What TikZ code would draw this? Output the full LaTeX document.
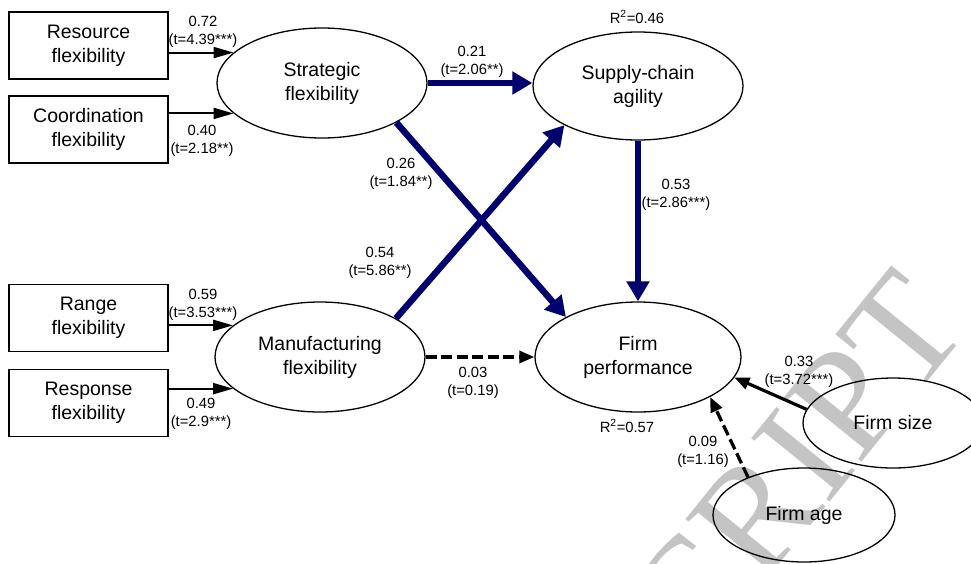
\documentclass[tikz,border=0pt]{standalone}
\usepackage{fontspec}
\setmainfont{Liberation Sans}
\newfontfamily\wmfont{Liberation Serif}
\usetikzlibrary{shapes.geometric,arrows.meta}
\definecolor{navy}{RGB}{0,0,110}
\definecolor{wmgray}{RGB}{196,196,196}
\tikzset{
  box/.style={draw,line width=1.6pt,minimum width=159pt,minimum height=67pt,inner sep=0pt,align=center,font=\fontsize{19.5}{24}\selectfont},
  ell/.style={draw,line width=1.3pt,ellipse,minimum width=210pt,minimum height=110pt,inner sep=0pt,align=center,font=\fontsize{19.5}{24}\selectfont},
  lab/.style={align=center,inner sep=0pt,font=\fontsize{14.8}{18}\selectfont},
  blk/.style={line width=2pt,-{Triangle[length=20pt,width=11pt]}},
  nav/.style={navy,line width=6.5pt,-{Triangle[length=20pt,width=22pt]}},
  blkthick/.style={line width=3.2pt,-{Triangle[length=15pt,width=12pt]}},
  dsh/.style={line width=3.3pt,dash pattern=on 11pt off 4.5pt,-{Triangle[length=15pt,width=12pt]}},
}
\begin{document}
\begin{tikzpicture}[x=1pt,y=-1pt]
\useasboundingbox (0,0) rectangle (971,563);
% watermark
\begin{scope}
\clip (0,0) rectangle (971,563);
\node[wmgray,rotate=51,anchor=base east,inner sep=0pt,font=\wmfont\fontsize{154}{160}\selectfont] (wm) at (972,327) {MANUSCRIPT};
\end{scope}
% boxes
\node[box] (res) at (88.5,45.5) {Resource\\flexibility};
\node[box] (coo) at (88.5,129.5) {Coordination\\flexibility};
\node[box] (ran) at (88.5,318) {Range\\flexibility};
\node[box] (rsp) at (88.5,403) {Response\\flexibility};
% ellipses
\node[ell] (str) at (322,83) {Strategic\\flexibility};
\node[ell,minimum height=108pt] (sca) at (638,86) {Supply-chain\\agility};
\node[ell] (mf) at (320,357) {Manufacturing\\flexibility};
\node[ell,minimum width=206pt] (fp) at (638,357) {Firm\\performance};
\node[ell,minimum width=180pt,minimum height=90pt] (fs) at (893,423) {Firm size};
\node[ell,minimum width=182pt,minimum height=94pt] (fa) at (804,515) {Firm age};
% arrows
\draw[blk] (str.161 -| res.east) -- (str.161);
\draw[blk] (str.199 -| coo.east) -- (str.199);
\draw[blk] (mf.160 -| ran.east) -- (mf.160);
\draw[blk] (mf.200 -| rsp.east) -- (mf.200);
\draw[nav] (str.east) -- (str.east -| sca.west);
\draw[nav] (str.-28) -- (fp.151);
\draw[nav] (mf.27) -- (sca.208);
\draw[nav] (sca.south) -- (fp.north);
\draw[dsh] (mf.east) -- (fp.west);
\draw[blkthick] (fs.171) -- (fp.-12);
\draw[dsh] (fa.146) -- (fp.-29.5);
% labels
\node[lab] (l1) at (203,32) {0.72\\(t=4.39***)};
\node[lab] (l2) at (202,141) {0.40\\(t=2.18**)};
\node[lab] (l3) at (203,305) {0.59\\(t=3.53***)};
\node[lab] (l4) at (201,414) {0.49\\(t=2.9***)};
\node[lab] (l5) at (472,62) {0.21\\(t=2.06**)};
\node[lab] (l6) at (401,174) {0.26\\(t=1.84**)};
\node[lab] (l7) at (676,195) {0.53\\(t=2.86***)};
\node[lab] (l8) at (380,263) {0.54\\(t=5.86**)};
\node[lab] (l9) at (473,383) {0.03\\(t=0.19)};
\node[lab] (l10) at (799,372) {0.33\\(t=3.72***)};
\node[lab] (l11) at (703,452) {0.09\\(t=1.16)};
\node[lab] (r1) at (637,17) {R\textsuperscript{2}=0.46};
\node[lab] (r2) at (627,426) {R\textsuperscript{2}=0.57};
\end{tikzpicture}
\end{document}
